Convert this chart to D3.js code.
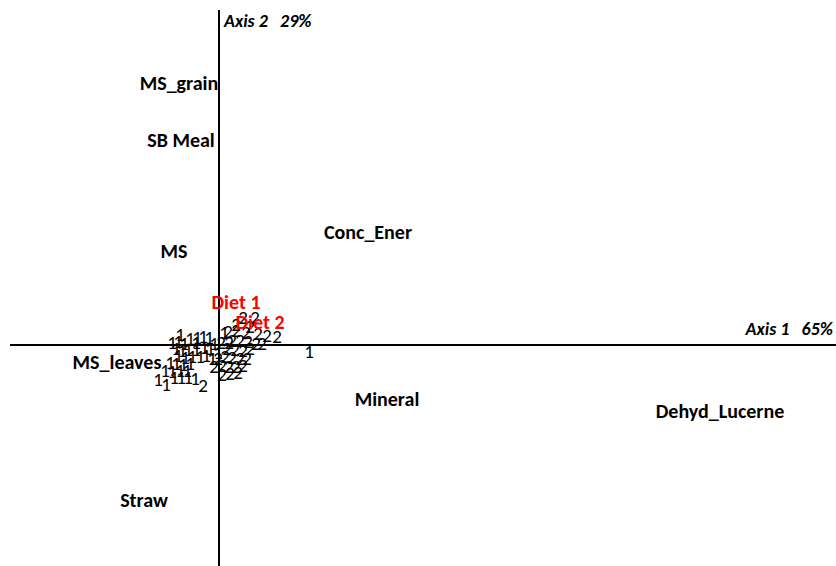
<!DOCTYPE html>
<html>
<head>
<meta charset="utf-8">
<script src="https://cdn.jsdelivr.net/npm/d3@7"></script>
<style>
  body { margin: 0; background: #fff; }
  text { font-family: Carlito, "Liberation Sans", Arial, sans-serif; }
</style>
</head>
<body>
<div id="chart"></div>
<script>
// variables (column scores)
const varNames = ["MS_grain", "SB Meal", "MS", "Conc_Ener", "MS_leaves", "Mineral", "Dehyd_Lucerne", "Straw"];
const varX = [-0.40, -0.38, -0.45, 1.49, -1.02, 1.68, 5.01, -0.75];
const varY = [2.62, 2.05, 0.94, 1.13, -0.17, -0.54, -0.66, -1.55];

// class centres
const dietNames = ["Diet 1", "Diet 2"];
const dietX = [0.17, 0.41];
const dietY = [0.43, 0.23];

// individuals, diet 1
const d1X = [-0.47, -0.41, -0.35, -0.29, -0.22, -0.16, -0.10, -0.43, -0.37, -0.31, -0.23, -0.15, -0.09,
  -0.41, -0.34, -0.27, -0.19, -0.13, -0.49, -0.43, -0.36, -0.29, -0.54, -0.47, -0.39, -0.32,
  -0.61, -0.53, -0.45, -0.38, -0.31, -0.24, 0.90, -0.05, -0.01, 0.05, -0.07, -0.23, -0.39];
const d1Y = [0.03, 0.04, 0.02, 0.07, 0.08, 0.09, 0.08, -0.03, -0.05, -0.04, -0.04, -0.02, -0.03,
  -0.10, -0.12, -0.11, -0.11, -0.10, -0.17, -0.18, -0.19, -0.18, -0.25, -0.26, -0.25, -0.25,
  -0.34, -0.39, -0.32, -0.32, -0.32, -0.33, -0.06, 0.02, -0.07, 0.13, -0.13, 0.03, 0.11];

// individuals, diet 2
const d2X = [0.09, 0.17, 0.24, 0.36, 0.39, 0.48, 0.58, 0.13, 0.21, 0.29, 0.37, 0.43, 0.08, 0.16, 0.24, 0.31,
  0.06, 0.13, 0.21, 0.28, 0.03, 0.10, 0.17, 0.24, 0.03, 0.11, 0.19, -0.16, -0.01, -0.05, 0.27, 0.31, 0.17, 0.10, 0.02];
const d2Y = [0.14, 0.15, 0.28, 0.28, 0.12, 0.10, 0.09, 0.05, 0.05, 0.04, 0.02, 0.02, -0.03, -0.04, -0.05, -0.03,
  -0.11, -0.12, -0.13, -0.13, -0.20, -0.21, -0.21, -0.20, -0.29, -0.28, -0.27, -0.40, -0.13, -0.21, 0.13, 0.19, 0.21, 0.03, 0.03];

// axis titles
const axis1Label = "Axis 1   65%";
const axis2Label = "Axis 2   29%";

const w = 836, h = 566;

const svg = d3.select("#chart").append("svg")
  .attr("width", w)
  .attr("height", h);

const x = d3.scaleLinear().domain([-2.09, 6.17]).range([10, 836]);
const y = d3.scaleLinear().domain([-2.21, 3.35]).range([566, 10]);

// axes through the origin
svg.append("line")
  .attr("x1", x(-2.09)).attr("x2", x(6.17))
  .attr("y1", y(0)).attr("y2", y(0))
  .attr("stroke", "#000").attr("stroke-width", 2);
svg.append("line")
  .attr("x1", x(0)).attr("x2", x(0))
  .attr("y1", y(3.35)).attr("y2", y(-2.21))
  .attr("stroke", "#000").attr("stroke-width", 2);

svg.append("text")
  .attr("x", x(0) + 5).attr("y", y(3.35) + 17)
  .attr("font-size", 18).attr("font-weight", "bold").attr("font-style", "italic")
  .attr("xml:space", "preserve")
  .text(axis2Label);
svg.append("text")
  .attr("x", 833).attr("y", y(0) - 10)
  .attr("text-anchor", "end")
  .attr("font-size", 18).attr("font-weight", "bold").attr("font-style", "italic")
  .attr("xml:space", "preserve")
  .text(axis1Label);

// individuals
const pts = d1X.map((v, i) => ({x: v, y: d1Y[i], lab: "1"}))
  .concat(d2X.map((v, i) => ({x: v, y: d2Y[i], lab: "2"})));

svg.append("g").selectAll("text")
  .data(pts)
  .join("text")
  .attr("x", d => x(d.x))
  .attr("y", d => y(d.y))
  .attr("text-anchor", "middle")
  .attr("dominant-baseline", "central")
  .attr("font-size", 19)
  .attr("fill", "#000")
  .text(d => d.lab);

// variable labels
svg.append("g").selectAll("text")
  .data(varNames)
  .join("text")
  .attr("x", (d, i) => x(varX[i]))
  .attr("y", (d, i) => y(varY[i]))
  .attr("text-anchor", "middle")
  .attr("dominant-baseline", "central")
  .attr("font-size", 20)
  .attr("font-weight", "bold")
  .text(d => d);

// diet centres
svg.append("g").selectAll("text")
  .data(dietNames)
  .join("text")
  .attr("x", (d, i) => x(dietX[i]))
  .attr("y", (d, i) => y(dietY[i]))
  .attr("text-anchor", "middle")
  .attr("dominant-baseline", "central")
  .attr("font-size", 20)
  .attr("font-weight", "bold")
  .attr("fill", "#ff0000")
  .text(d => d);
</script>
</body>
</html>
